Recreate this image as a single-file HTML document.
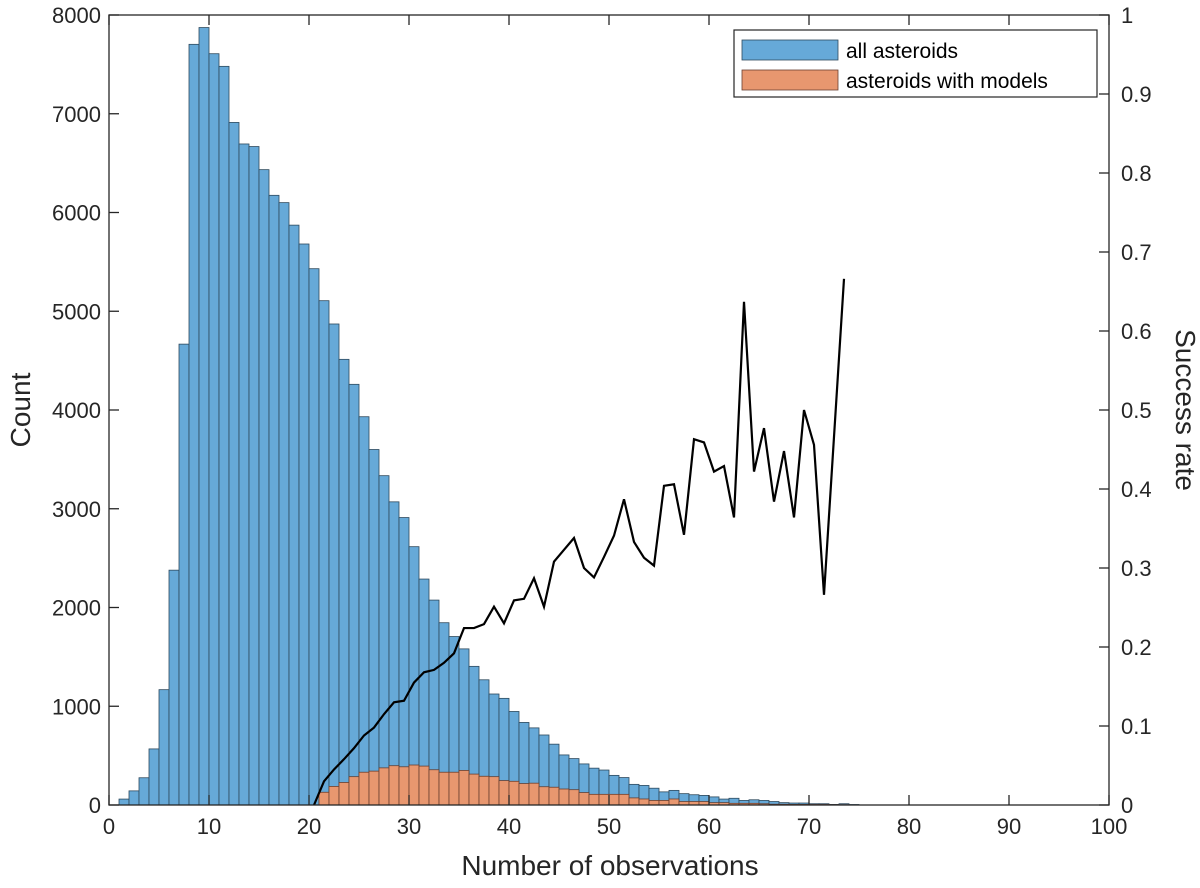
<!DOCTYPE html>
<html><head><meta charset="utf-8"><style>
body{margin:0;background:#fff;}
svg text{font-family:"Liberation Sans",Arial,sans-serif;fill:#262626;}
</style></head><body>
<svg id="chart" width="1200" height="883" viewBox="0 0 1200 883" xmlns="http://www.w3.org/2000/svg"></svg>
<script>
const binStarts = [1,2,3,4,5,6,7,8,9,10,11,12,13,14,15,16,17,18,19,20,21,22,23,24,25,26,27,28,29,30,31,32,33,34,35,36,37,38,39,40,41,42,43,44,45,46,47,48,49,50,51,52,53,54,55,56,57,58,59,60,61,62,63,64,65,66,67,68,69,70,71,72,73,74];
const allCounts = [60,143,276,568,1168,2378,4667,7703,7873,7608,7480,6912,6694,6668,6434,6174,6100,5872,5681,5431,5107,4871,4513,4260,3932,3600,3335,3070,2911,2616,2288,2075,1846,1706,1581,1404,1268,1124,1080,947,836,781,709,616,507,470,416,373,354,300,278,209,198,170,133,148,115,104,97,82,60,68,46,53,46,35,24,20,20,13,13,6,13,5];
const modelCounts = [0,0,0,0,0,0,0,0,0,0,0,0,0,0,0,0,0,0,0,0,129,188,228,287,332,343,376,398,387,405,394,357,332,332,350,313,291,287,247,240,217,221,185,180,162,155,126,108,108,108,108,72,61,46,46,61,35,35,35,24,24,17,17,17,13,8,8,6,6,5,5,3,3,0];
const rateX = [20.5,21.5,22.5,23.5,24.5,25.5,26.5,27.5,28.5,29.5,30.5,31.5,32.5,33.5,34.5,35.5,36.5,37.5,38.5,39.5,40.5,41.5,42.5,43.5,44.5,45.5,46.5,47.5,48.5,49.5,50.5,51.5,52.5,53.5,54.5,55.5,56.5,57.5,58.5,59.5,60.5,61.5,62.5,63.5,64.5,65.5,66.5,67.5,68.5,69.5,70.5,71.5,73.5];
const rateY = [0,0.03,0.045,0.058,0.072,0.088,0.098,0.115,0.13,0.132,0.155,0.168,0.171,0.18,0.192,0.224,0.224,0.229,0.251,0.23,0.259,0.261,0.287,0.251,0.308,0.323,0.338,0.3,0.288,0.314,0.341,0.387,0.333,0.313,0.303,0.404,0.406,0.342,0.463,0.459,0.422,0.429,0.364,0.637,0.422,0.477,0.384,0.448,0.364,0.5,0.456,0.266,0.666];
const xTicks = [0,10,20,30,40,50,60,70,80,90,100];
const yTicks = [0,1000,2000,3000,4000,5000,6000,7000,8000];
const rTicks = [0,0.1,0.2,0.3,0.4,0.5,0.6,0.7,0.8,0.9,1];

const L=109,R=1109,T=15,B=805;
const sx=v=>L+(v-0)/100*(R-L);
const sy=v=>B-v/8000*(B-T);
const sr=v=>B-v*(B-T);
const svg=document.getElementById('chart');
const NS='http://www.w3.org/2000/svg';
function mk(tag,attrs,parent){const e=document.createElementNS(NS,tag);for(const k in attrs)e.setAttribute(k,attrs[k]);(parent||svg).appendChild(e);return e;}

const gAll=mk('g',{});


binStarts.forEach((b,i)=>{
  const r=mk('rect',{x:sx(b),y:sy(allCounts[i]),width:sx(b+1)-sx(b),height:B-sy(allCounts[i]),fill:'#66a9d8',stroke:'#2e4a5e','stroke-width':0.8},gAll);
  
  
});
const gMod=mk('g',{});


binStarts.forEach((b,i)=>{
  if(modelCounts[i]<=0)return;
  const r=mk('rect',{x:sx(b),y:sy(modelCounts[i]),width:sx(b+1)-sx(b),height:B-sy(modelCounts[i]),fill:'#e8976f',stroke:'#6a4030','stroke-width':0.8},gMod);
  
  
});
const line=mk('polyline',{points:rateX.map((x,i)=>sx(x)+','+sr(rateY[i])).join(' '),fill:'none',stroke:'#000','stroke-width':2.2,'stroke-linejoin':'miter'});



const box=mk('rect',{x:L,y:T,width:R-L,height:B-T,fill:'none',stroke:'#262626','stroke-width':1.3});


xTicks.forEach(t=>{
  mk('line',{x1:sx(t),x2:sx(t),y1:B,y2:B-10,stroke:'#262626','stroke-width':1.3});
  mk('line',{x1:sx(t),x2:sx(t),y1:T,y2:T+10,stroke:'#262626','stroke-width':1.3});
  const tx=mk('text',{x:sx(t),y:B+29,'text-anchor':'middle','font-size':22});
  tx.textContent=t;
  
  
});
yTicks.forEach(t=>{
  mk('line',{x1:L,x2:L+10,y1:sy(t),y2:sy(t),stroke:'#262626','stroke-width':1.3});
  const tx=mk('text',{x:L-8,y:sy(t)+8,'text-anchor':'end','font-size':22});
  tx.textContent=t;
  
  
});
rTicks.forEach(t=>{
  mk('line',{x1:R,x2:R-10,y1:sr(t),y2:sr(t),stroke:'#262626','stroke-width':1.3});
  const tx=mk('text',{x:R+12,y:sr(t)+8,'text-anchor':'start','font-size':22});
  tx.textContent=+t.toFixed(1);
  
  
});
</script>
<div style="position:absolute;left:0;top:0;width:1200px;height:883px;pointer-events:none;">
<svg width="1200" height="883" style="position:absolute;left:0;top:0">
<text x="610" y="875" text-anchor="middle" font-size="28" style="font-family:'Liberation Sans',sans-serif;fill:#262626">Number of observations</text>
<text transform="translate(30,410) rotate(-90)" text-anchor="middle" font-size="28" style="font-family:'Liberation Sans',sans-serif;fill:#262626">Count</text>
<text transform="translate(1176,410) rotate(90)" text-anchor="middle" font-size="28" style="font-family:'Liberation Sans',sans-serif;fill:#262626">Success rate</text>
<g>
<rect x="734" y="30" width="363" height="67" fill="#fff" stroke="#262626" stroke-width="1.2"/>
<rect x="742" y="40" width="96" height="20" fill="#66a9d8" stroke="#2e4a5e" stroke-width="0.8"/>
<text x="846" y="58" font-size="21" style="font-family:'Liberation Sans',sans-serif;fill:#000">all asteroids</text>
<rect x="742" y="70" width="96" height="20" fill="#e8976f" stroke="#6a4030" stroke-width="0.8"/>
<text x="846" y="88" font-size="21" style="font-family:'Liberation Sans',sans-serif;fill:#000">asteroids with models</text>
</g>
</svg>
</div>
</body></html>
